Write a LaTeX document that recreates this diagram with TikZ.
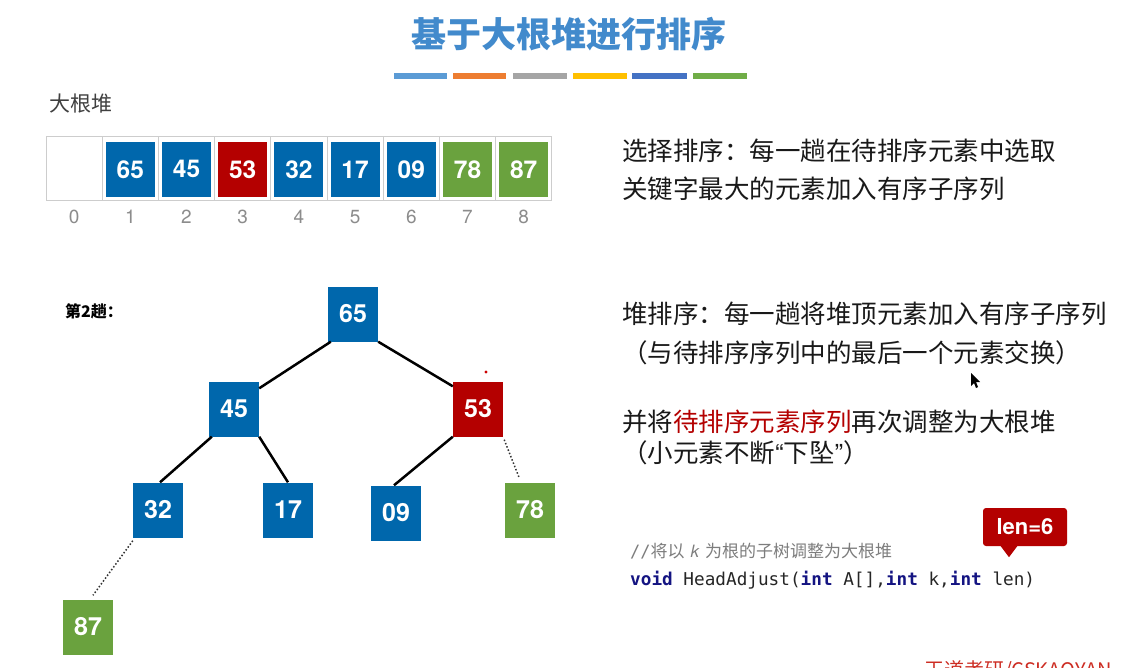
\documentclass[tikz,border=0pt]{standalone}
\usepackage{fontspec}
\usetikzlibrary{calc}
\newfontfamily\cjk{Noto Sans CJK SC}
\newfontfamily\heros{TeX Gyre Heros}
\newfontfamily\mono{DejaVu Sans Mono}
\definecolor{kblue}{RGB}{0,103,172}
\definecolor{kred}{RGB}{180,0,0}
\definecolor{kgreen}{RGB}{106,162,62}
\definecolor{ttl}{RGB}{66,138,204}
\definecolor{bA}{RGB}{91,155,213}
\definecolor{bB}{RGB}{237,125,49}
\definecolor{bC}{RGB}{165,165,165}
\definecolor{bD}{RGB}{255,192,0}
\definecolor{bE}{RGB}{68,114,196}
\definecolor{bF}{RGB}{112,173,71}
\definecolor{gridc}{RGB}{205,205,205}
\definecolor{idxc}{RGB}{140,140,140}
\definecolor{navy}{RGB}{20,20,130}
\definecolor{cmt}{RGB}{125,125,125}
\definecolor{txt}{RGB}{25,25,25}
\definecolor{wm}{RGB}{205,45,35}
\tikzset{
  key/.style={rectangle, inner sep=0pt, minimum width=50pt, minimum height=55pt, text=white,
    font=\heros\bfseries\fontsize{25}{25}\selectfont},
  arr/.style={rectangle, inner sep=0pt, minimum width=49pt, minimum height=55pt, text=white,
    font=\heros\bfseries\fontsize{24.5}{24.5}\selectfont},
  cell/.style={rectangle, draw=gridc, line width=0.8pt, inner sep=0pt, minimum width=56.2pt, minimum height=64.7pt},
  idx/.style={text=idxc, font=\heros\fontsize{19}{19}\selectfont, inner sep=0pt},
  para/.style={anchor=west, inner sep=0pt, text=txt, font=\cjk\fontsize{25.5}{30}\selectfont},
  edge/.style={line width=2.5pt, black},
  dots/.style={line width=1.5pt, dotted, black!80},
  bar/.style={line width=6pt},
}
\begin{document}
\begin{tikzpicture}[x=1pt,y=-1pt]
\useasboundingbox (0,0) rectangle (1130,667);
\clip (0,0) rectangle (1130,667);
\fill[white] (0,0) rectangle (1130,667);

% title
\node[text=ttl, font=\cjk\bfseries\fontsize{35}{35}\selectfont, inner sep=0pt] (title) at (569,34) {基于大根堆进行排序};
\draw[bar, bA] (394,76) -- (447,76);
\draw[bar, bB] (453,76) -- (506,76);
\draw[bar, bC] (513,76) -- (567,76);
\draw[bar, bD] (573,76) -- (627,76);
\draw[bar, bE] (632,76) -- (687,76);
\draw[bar, bF] (693,76) -- (747,76);

% array
\node[anchor=west, inner sep=0pt, text=black!75, font=\cjk\fontsize{21}{21}\selectfont] (lbl) at (49,104) {大根堆};
\foreach \i in {0,...,8} {
  \node[cell] (c\i) at ({46+56.2*(\i+0.5)},168.4) {};
  \node[idx] (i\i) at ({46+56.2*(\i+0.5)},217) {\i};
}
\node[arr, fill=kblue]  (a1) at ($(c1)+(0,1)$) {65};
\node[arr, fill=kblue]  (a2) at ($(c2)+(0,1)$) {45};
\node[arr, fill=kred]   (a3) at ($(c3)+(0,1)$) {53};
\node[arr, fill=kblue]  (a4) at ($(c4)+(0,1)$) {32};
\node[arr, fill=kblue]  (a5) at ($(c5)+(0,1)$) {17};
\node[arr, fill=kblue]  (a6) at ($(c6)+(0,1)$) {09};
\node[arr, fill=kgreen] (a7) at ($(c7)+(0,1)$) {78};
\node[arr, fill=kgreen] (a8) at ($(c8)+(0,1)$) {87};

% round label
\node[anchor=west, inner sep=0pt, font=\cjk\bfseries\fontsize{16}{16}\selectfont] (round) at (65,311) {第2趟：};

% tree
\node[key, fill=kblue]  (n65) at (353,314) {65};
\node[key, fill=kblue]  (n45) at (234,409) {45};
\node[key, fill=kred]   (n53) at (478,409) {53};
\node[key, fill=kblue]  (n32) at (158,510) {32};
\node[key, fill=kblue]  (n17) at (288,510) {17};
\node[key, fill=kblue]  (n09) at (396,513) {09};
\node[key, fill=kgreen] (n78) at (530,510) {78};
\node[key, fill=kgreen] (n87) at (88,627) {87};

\draw[edge] ($(n65.south west)+(3,0)$) -- ($(n45.north east)+(0,7)$);
\draw[edge] (n65.south east) -- ($(n53.north west)+(0,5)$);
\draw[edge] ($(n45.south west)+(3,0)$) -- ($(n32.north)+(2,0)$);
\draw[edge] (n45.south east) -- (n17.north);
\draw[edge] (n53.south west) -- ($(n09.north)+(-2,0)$);
\draw[dots] ($(n53.south east)+(1,3)$) -- ($(n78.north)+(-11,-5)$);
\draw[dots] ($(n32.south west)+(0,3)$) -- ($(n87.north)+(5,-4)$);

% pointer dot
\fill[red!80!black] (486,372) circle (1.6);

% right text
\node[para] (t1) at (622,151) {选择排序：每一趟在待排序元素中选取};
\node[para] (t2) at (622,189) {关键字最大的元素加入有序子序列};
\node[para] (t3) at (622,314) {堆排序：每一趟将堆顶元素加入有序子序列};
\node[para] (t4) at (622,353) {（与待排序序列中的最后一个元素交换）};
\node[para] (t5) at (622,422) {并将\textcolor{kred}{待排序元素序列}再次调整为大根堆};
\node[para] (t6) at (622,453) {（小元素不断{\heros “}下坠{\heros ”}）};

% cursor
\fill[black] (971,373) -- (971,386) -- (974,383) -- (976,388) -- (978,387) -- (976,382) -- (980,382) -- cycle;

% code
\node[anchor=west, inner sep=0pt, text=cmt, font=\cjk\fontsize{17}{17}\selectfont] (cm) at (630,551)
  {{\mono //}将以\hspace{6pt}{\heros\itshape k}\hspace{6pt}为根的子树调整为大根堆};
\node[anchor=west, inner sep=0pt, text=black!85, font=\mono\fontsize{17.7}{17.7}\selectfont] (code) at (630,580)
  {\textcolor{navy}{\bfseries void} HeadAdjust(\textcolor{navy}{\bfseries int} A[],\textcolor{navy}{\bfseries int} k,\textcolor{navy}{\bfseries int} len)};

% callout
\node[rectangle, rounded corners=3pt, fill=kred, text=white, minimum width=84pt, minimum height=38pt, inner sep=0pt,
  font=\heros\bfseries\fontsize{22}{22}\selectfont] (len) at (1025,527) {len=6};
\fill[kred] ($(len.south)+(-25,-1)$) -- ($(len.south)+(-7,-1)$) -- ($(len.south)+(-16,11)$) -- cycle;

% watermark (cut off at the lower edge, as in the reference)
\node[anchor=north west, inner sep=0pt, text=wm, font=\cjk\fontsize{20}{20}\selectfont] (wmk) at (924,660) {王道考研/CSKAOYAN};
\end{tikzpicture}
\end{document}
